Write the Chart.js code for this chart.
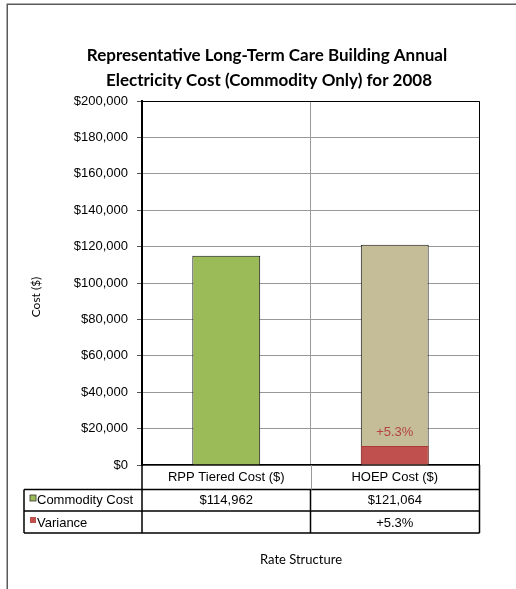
<!DOCTYPE html>
<html><head><meta charset="utf-8">
<script src="https://cdn.jsdelivr.net/npm/chart.js@4"></script>
<style>html,body{margin:0;padding:0;background:#fff;}canvas{display:block;}</style>
</head><body>
<canvas id="c" width="516" height="589"></canvas>
<script>
// ---- data ----
const categories = ['RPP Tiered Cost ($)', 'HOEP Cost ($)'];
const commodityCost = [114962, 121064];
const varianceBar = [null, 10500];
const varianceText = ['', '+5.3%'];
const seriesNames = ['Commodity Cost', 'Variance'];
const yMin = 0, yMax = 200000, yStep = 20000;
const titleLines = ['Representative Long-Term Care Building Annual', 'Electricity Cost (Commodity Only) for 2008'];
const yTitle = 'Cost ($)';
const xTitle = 'Rate Structure';

const commodityColors = ['#9BBB59', '#C4BD97'];
const varianceColor = '#C0504D';

const fmtMoney = v => '$' + Math.round(v).toLocaleString('en-US');

const overlay = {
  id: 'overlay',
  afterDraw(chart) {
    const ctx = chart.ctx;
    const a = chart.chartArea;
    const xs = chart.scales.x, ys = chart.scales.y;
    ctx.save();
    // outer frame
    ctx.strokeStyle = '#5a5a5a'; ctx.lineWidth = 1.5;
    ctx.beginPath(); ctx.moveTo(7.25, 600); ctx.lineTo(7.25, 4.25); ctx.lineTo(520, 4.25); ctx.stroke();

    // title
    ctx.fillStyle = '#000'; ctx.textAlign = 'center'; ctx.textBaseline = 'middle';
    ctx.font = 'bold 17px Lato';
    ctx.fillText(titleLines[0], 267, 56);
    ctx.fillText(titleLines[1], 269, 81);

    // y title
    ctx.save(); ctx.translate(36, 297); ctx.rotate(-Math.PI/2);
    ctx.font = '12px Lato'; ctx.fillText(yTitle, 0, 0); ctx.restore();

    // x title
    ctx.font = '13px Lato'; ctx.fillText(xTitle, 301, 560);

    // plot border top/right
    ctx.strokeStyle = '#000'; ctx.lineWidth = 1;
    ctx.beginPath(); ctx.moveTo(a.left, a.top + 0.5); ctx.lineTo(a.right + 0.5, a.top + 0.5); ctx.lineTo(a.right + 0.5, a.bottom); ctx.stroke();

    // variance label
    ctx.fillStyle = '#B5443F'; ctx.font = '13px "Liberation Sans"';
    varianceBar.forEach((v, i) => {
      if (v == null) return;
      ctx.fillText(varianceText[i], xs.getPixelForValue(i), ys.getPixelForValue(v) - 13);
    });

    // data table
    const r0 = a.bottom, r1 = 489.5, r2 = 511, r3 = 533;
    const left = 24;
    const mid = (xs.getPixelForValue(0) + xs.getPixelForValue(1)) / 2;
    ctx.strokeStyle = '#000'; ctx.lineWidth = 1.5;
    ctx.beginPath();
    ctx.moveTo(a.left, r1); ctx.lineTo(a.right + 0.5, r1);
    ctx.moveTo(left, r1); ctx.lineTo(a.left, r1);
    ctx.moveTo(left, r2); ctx.lineTo(a.right + 0.5, r2);
    ctx.moveTo(left, r3); ctx.lineTo(a.right + 0.5, r3);
    ctx.moveTo(left, r1); ctx.lineTo(left, r3);
    ctx.moveTo(a.left, r0); ctx.lineTo(a.left, r3);
    ctx.moveTo(mid, r1); ctx.lineTo(mid, r3);
    ctx.moveTo(a.right + 0.5, r0); ctx.lineTo(a.right + 0.5, r3);
    ctx.stroke();
    ctx.strokeStyle = '#999'; ctx.lineWidth = 1;
    ctx.beginPath(); ctx.moveTo(Math.round(mid) + 0.5, r0); ctx.lineTo(Math.round(mid) + 0.5, r1); ctx.stroke();

    ctx.fillStyle = '#000'; ctx.font = '13px "Liberation Sans"'; ctx.textAlign = 'center';
    categories.forEach((c, i) => {
      const cx = xs.getPixelForValue(i);
      ctx.fillText(c, cx, (r0 + r1) / 2 + 0.5);
      ctx.fillText(fmtMoney(commodityCost[i]), cx, (r1 + r2) / 2 + 0.5);
      ctx.fillText(varianceText[i], cx, (r2 + r3) / 2 + 1);
    });
    // legend keys
    ctx.textAlign = 'left';
    ctx.fillText(seriesNames[0], 37, (r1 + r2) / 2 + 0.5);
    ctx.fillText(seriesNames[1], 37, (r2 + r3) / 2 + 1);
    ctx.fillStyle = commodityColors[0]; ctx.fillRect(30, 495, 6, 6);
    ctx.strokeStyle = '#333'; ctx.lineWidth = 0.8; ctx.strokeRect(30, 495, 6, 6);
    ctx.fillStyle = varianceColor; ctx.fillRect(30, 517, 6, 6);
    ctx.restore();
  }
};

new Chart(document.getElementById('c'), {
  type: 'bar',
  data: {
    labels: categories,
    datasets: [
      { label: seriesNames[1], data: varianceBar, backgroundColor: varianceColor, borderColor: '#A83A36', borderWidth: 1, order: 0 },
      { label: seriesNames[0], data: commodityCost, backgroundColor: commodityColors, borderColor: '#111', borderWidth: 1, order: 1 }
    ]
  },
  options: {
    responsive: false, animation: false, devicePixelRatio: 1,
    layout: { padding: { left: 0, top: 101, right: 37, bottom: 0 } },
    plugins: { legend: { display: false }, title: { display: false }, tooltip: { enabled: false } },
    datasets: { bar: { barPercentage: 0.403, categoryPercentage: 1 } },
    scales: {
      x: {
        stacked: true,
        ticks: { display: false },
        grid: { color: '#999', drawTicks: false, offset: true },
        border: { color: '#000', width: 1.5 },
        afterFit(s) { s.height = 124; }
      },
      y: {
        stacked: false,
        min: yMin, max: yMax,
        ticks: { stepSize: yStep, callback: v => fmtMoney(v), color: '#000', font: { family: 'Liberation Sans', size: 13 }, padding: 9 },
        grid: { color: '#999', tickColor: '#555', tickLength: 5 },
        border: { color: '#000', width: 2 },
        afterFit(s) { s.width = 142; }
      }
    }
  },
  plugins: [overlay]
});
</script>
</body></html>
